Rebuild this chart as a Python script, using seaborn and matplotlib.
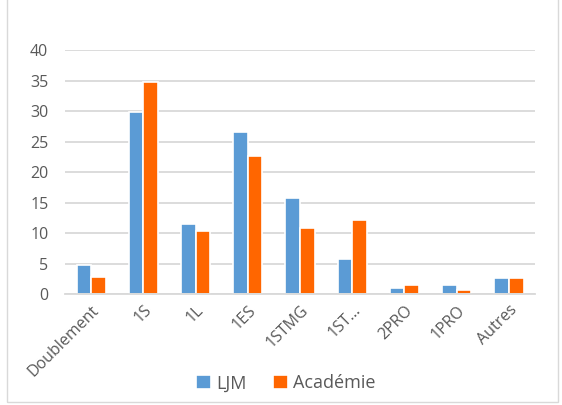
import pandas as pd
import seaborn as sns
import matplotlib.pyplot as plt
from matplotlib.patches import Rectangle

categories = ['Doublement', '1S', '1L', '1ES', '1STMG', '1ST…', '2PRO', '1PRO', 'Autres']
ljm = [4.8, 29.9, 11.4, 26.5, 15.8, 5.8, 1.0, 1.5, 2.7]
academie = [2.8, 34.7, 10.3, 22.6, 10.8, 12.2, 1.4, 0.7, 2.7]
series = ['LJM', 'Académie']
colors = ['#5B9BD5', '#FF6600']

df = pd.DataFrame({'cat': categories * 2,
                   'val': ljm + academie,
                   'serie': [series[0]] * len(ljm) + [series[1]] * len(academie)})

sns.set_style('white')
plt.rcParams['font.family'] = ['Open Sans', 'DejaVu Sans']
txt = '#595959'

fig = plt.figure(figsize=(5.62, 4.05), dpi=100)
ax = fig.add_axes([0.1157, 0.274, 0.8363, 0.6025])
sns.barplot(data=df, x='cat', y='val', hue='serie', palette=colors, width=0.56,
            saturation=1, edgecolor='white', linewidth=1.2, ax=ax)

ax.set_ylim(0, 40)
ax.set_yticks(range(0, 41, 5))
ax.yaxis.grid(True, color='#D9D9D9', linewidth=1.3)
ax.set_axisbelow(True)
for s in ['top', 'right', 'left']:
    ax.spines[s].set_visible(False)
ax.spines['bottom'].set_color('#D9D9D9')
ax.spines['bottom'].set_linewidth(1.3)
ax.set_xlabel('')
ax.set_ylabel('')
ax.tick_params(axis='both', length=0, colors=txt, labelsize=11.5)
ax.tick_params(axis='y', pad=12)
ax.tick_params(axis='x', pad=6)
plt.setp(ax.get_xticklabels(), rotation=45, ha='right', rotation_mode='anchor')

leg = ax.legend(loc='lower center', bbox_to_anchor=(0.47, -0.47), ncol=2, frameon=False,
                fontsize=13, handlelength=0.8, handleheight=0.8, columnspacing=1.5,
                handletextpad=0.3)
for t in leg.get_texts():
    t.set_color(txt)

fig.patches.append(Rectangle((0.013, 0.007), 0.98, 1.0, transform=fig.transFigure,
                             fill=False, edgecolor='#D9D9D9', linewidth=1))
fig.savefig('out.png', dpi=100)
